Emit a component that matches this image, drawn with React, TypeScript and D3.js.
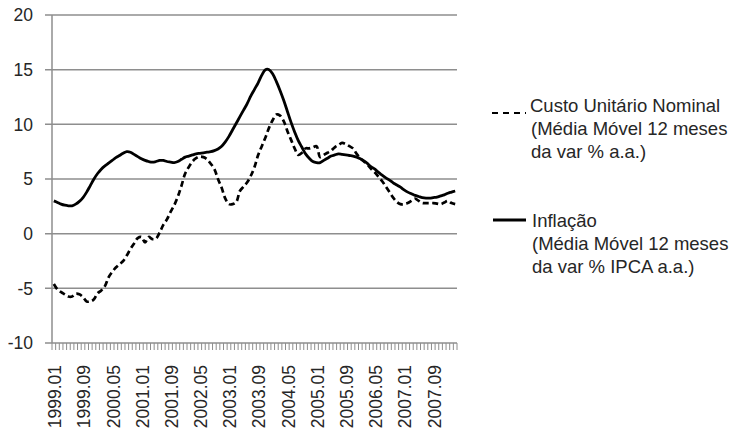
import React from "react";
import * as d3 from "d3";

// monthly categories 1999.01 .. 2008.03
const months: string[] = [];
for (let y = 1999; y <= 2008; y++) {
  for (let m = 1; m <= 12; m++) {
    if (y === 2008 && m > 3) break;
    months.push(`${y}.${String(m).padStart(2, "0")}`);
  }
}

const tickLabels = [
  "1999.01", "1999.09", "2000.05", "2001.01", "2001.09", "2002.05", "2003.01",
  "2003.09", "2004.05", "2005.01", "2005.09", "2006.05", "2007.01", "2007.09",
];

const yTicks = [-10, -5, 0, 5, 10, 15, 20];

// Custo Unitário Nominal (dashed)
const custo = [
  -4.6, -5.1, -5.35, -5.55, -5.75, -5.75, -5.5, -5.55, -5.8, -6.2,
  -6.2, -6.0, -5.45, -5.2, -4.8, -4.0, -3.5, -3.1, -2.8, -2.5,
  -2.0, -1.4, -0.9, -0.4, -0.3, -0.8, -0.3, -0.5, -0.45, 0.1,
  0.8, 1.3, 2.0, 2.6, 3.4, 4.4, 5.5, 6.1, 6.6, 6.9,
  7.05, 7.0, 6.8, 6.4, 5.9, 5.0, 4.2, 3.2, 2.7, 2.7,
  2.9, 3.9, 4.3, 4.7, 5.3, 6.1, 7.2, 8.0, 8.8, 9.7,
  10.4, 10.9, 10.8, 10.3, 9.4, 8.6, 7.8, 7.2, 7.4, 7.8,
  7.8, 7.9, 8.0, 7.0, 7.2, 7.4, 7.6, 7.9, 8.1, 8.3,
  8.2, 8.0, 7.8, 7.3, 6.9, 6.6, 6.3, 5.9, 5.6, 5.2,
  4.8, 4.3, 3.8, 3.3, 2.9, 2.7, 2.7, 2.8, 3.0, 3.2,
  3.0, 2.8, 2.8, 2.8, 2.8, 2.75, 2.7, 2.85, 3.0, 2.8,
  2.7,
];

// Inflação (solid)
const inflacao = [
  3.0, 2.85, 2.7, 2.6, 2.55, 2.55, 2.7, 2.95, 3.3, 3.8,
  4.4, 5.0, 5.5, 5.9, 6.2, 6.45, 6.7, 6.95, 7.15, 7.35,
  7.5, 7.45, 7.25, 7.05, 6.85, 6.7, 6.6, 6.55, 6.6, 6.7,
  6.7, 6.6, 6.55, 6.5, 6.6, 6.8, 7.0, 7.1, 7.2, 7.3,
  7.35, 7.4, 7.45, 7.5, 7.6, 7.75, 8.0, 8.4, 8.9, 9.5,
  10.1, 10.7, 11.3, 11.9, 12.6, 13.2, 13.8, 14.5, 15.0, 15.0,
  14.6, 13.9, 13.1, 12.2, 11.2, 10.2, 9.3, 8.5, 7.9, 7.3,
  6.9, 6.6, 6.5, 6.5, 6.7, 6.9, 7.1, 7.2, 7.3, 7.25,
  7.2, 7.15, 7.1, 7.0, 6.85, 6.65, 6.4, 6.1, 5.9, 5.6,
  5.35, 5.1, 4.9, 4.65, 4.45, 4.25, 4.0, 3.8, 3.65, 3.5,
  3.4, 3.3, 3.25, 3.25, 3.3, 3.35, 3.45, 3.55, 3.7, 3.8,
  3.9,
];

const width = 736;
const height = 434;
const margin = { top: 15, right: 279, bottom: 91, left: 52 };
const font = "'Liberation Sans', Arial, Helvetica, sans-serif";
const gridColor = "#8e8e8e";
const textColor = "#262626";

export default function App() {
  const x = d3
    .scaleBand<string>()
    .domain(months)
    .range([margin.left, width - margin.right]);

  const y = d3
    .scaleLinear()
    .domain([-10, 20])
    .range([height - margin.bottom, margin.top]);

  const cx = (i: number) => (x(months[i]) as number) + x.bandwidth() / 2;

  const line = d3
    .line<number>()
    .x((_, i) => cx(i))
    .y((d) => y(d))
    .curve(d3.curveCatmullRom);

  const bottom = height - margin.bottom;
  const boundaries = months.map((m) => x(m) as number).concat([width - margin.right]);

  return (
    <svg
      width={width}
      height={height}
      style={{ position: "absolute", left: 0, top: 0, background: "#fff" }}
      fontFamily={font}
    >
      {/* horizontal gridlines */}
      {yTicks.map((t) => (
        <g key={t}>
          <line
            x1={margin.left - 7}
            x2={width - margin.right}
            y1={y(t)}
            y2={y(t)}
            stroke={gridColor}
            strokeWidth={1.5}
          />
          <text
            x={33}
            y={y(t)}
            dy="0.36em"
            textAnchor="end"
            fontSize={17.5}
            fill={textColor}
          >
            {t}
          </text>
        </g>
      ))}

      {/* y axis */}
      <line
        x1={margin.left}
        x2={margin.left}
        y1={margin.top}
        y2={bottom}
        stroke={gridColor}
        strokeWidth={1.5}
      />

      {/* x axis minor ticks */}
      {boundaries.map((bx, i) => (
        <line
          key={i}
          x1={bx}
          x2={bx}
          y1={bottom}
          y2={bottom + 7}
          stroke={gridColor}
          strokeWidth={1}
        />
      ))}

      {/* x labels */}
      {tickLabels.map((lab) => {
        const i = months.indexOf(lab);
        return (
          <text
            key={lab}
            transform={`translate(${cx(i) + 1},${bottom + 22}) rotate(-90)`}
            dy="0.36em"
            textAnchor="end"
            fontSize={17.5}
            fill={textColor}
          >
            {lab}
          </text>
        );
      })}

      {/* series */}
      <path
        d={line(inflacao) ?? ""}
        fill="none"
        stroke="#000"
        strokeWidth={2.8}
        strokeLinejoin="round"
      />
      <path
        d={line(custo) ?? ""}
        fill="none"
        stroke="#000"
        strokeWidth={2.7}
        strokeDasharray="6,3.5"
      />

      {/* legend */}
      <line x1={492} x2={526} y1={113} y2={113} stroke="#000" strokeWidth={2.2} strokeDasharray="6,5" />
      <text fontSize={18.5} fill={textColor}>
        <tspan x={530} y={112}>Custo Unitário Nominal</tspan>
        <tspan x={531} y={135}>(Média Móvel 12 meses</tspan>
        <tspan x={531} y={158}>da var % a.a.)</tspan>
      </text>
      <line x1={493} x2={526} y1={220} y2={220} stroke="#000" strokeWidth={2.8} />
      <text fontSize={18.5} fill={textColor}>
        <tspan x={532} y={227}>Inflação</tspan>
        <tspan x={532} y={250}>(Média Móvel 12 meses</tspan>
        <tspan x={532} y={273}>da var % IPCA a.a.)</tspan>
      </text>
    </svg>
  );
}
